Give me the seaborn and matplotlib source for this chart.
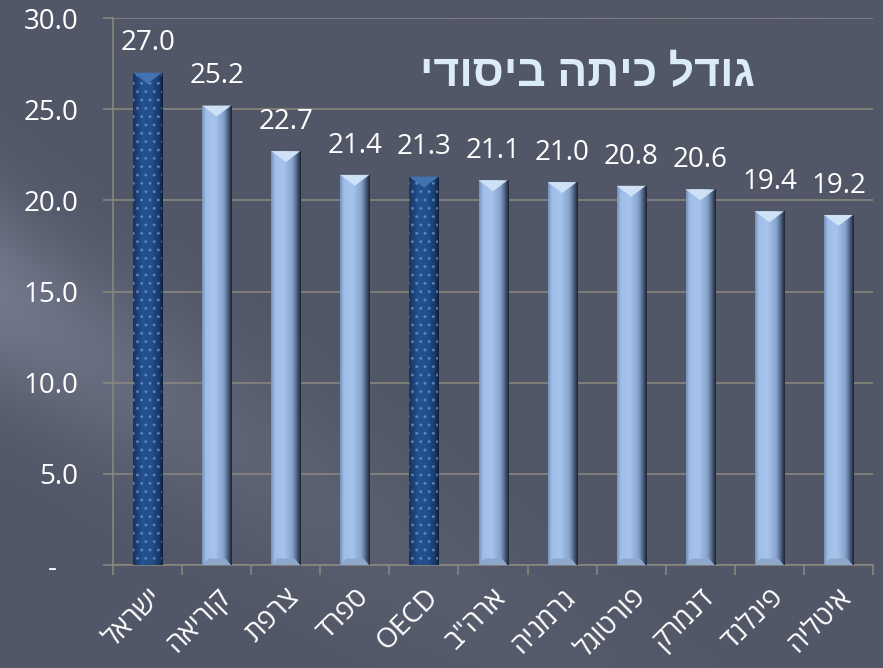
import numpy as np
import pandas as pd
import matplotlib
matplotlib.use("Agg")
import matplotlib.pyplot as plt
import seaborn as sns
from matplotlib.colors import LinearSegmentedColormap
from matplotlib.patches import Rectangle, Polygon

categories = ["ישראל", "קוריאה", "צרפת", "ספרד", "OECD", 'ארה"ב', "גרמניה", "פורטוגל", "דנמרק", "פינלנד", "איטליה"]
values = [27.0, 25.2, 22.7, 21.4, 21.3, 21.1, 21.0, 20.8, 20.6, 19.4, 19.2]
highlight = ["ישראל", "OECD"]
title_text = "גודל כיתה ביסודי"
yticks = [0, 5, 10, 15, 20, 25, 30]
ytick_labels = ["-   ", "5.0", "10.0", "15.0", "20.0", "25.0", "30.0"]


def vis(s):
    # matplotlib has no bidi support: reverse Hebrew for display
    if any('\u0590' <= c <= '\u05ff' for c in s):
        return s[::-1]
    return s


sns.set_theme(style="white")
plt.rcParams['font.family'] = ['Open Sans', 'Liberation Sans', 'DejaVu Sans']

df = pd.DataFrame({"country": categories, "value": values})

fig = plt.figure(figsize=(8.83, 6.68), dpi=100)

# background gradient (pixel grid)
bgax = fig.add_axes([0, 0, 1, 1], zorder=-10)
H, W = 334, 442
py, px = np.mgrid[0:668:H * 1j, 0:883:W * 1j]
base = np.array([82, 87, 103]) / 255.0
light = np.array([118, 124, 142]) / 255.0
dx, dy = 300.0, 190.0
n = np.hypot(dx, dy)
s = (-(dy / n) * px + (dx / n) * (py - 235))
band = np.exp(-((s - 50) / 80.0) ** 2) * np.exp(-px / 260.0)
w = np.clip(band * 0.9, 0, 1)[..., None]
img = base * (1 - w) + light * w
bgax.imshow(img, extent=[0, 1, 0, 1], aspect='auto', origin='upper', interpolation='bilinear')
bgax.set_axis_off()

ax = fig.add_axes([0.128, 0.154, 0.8607, 0.819])
ax.set_facecolor('none')

sns.barplot(data=df, x="country", y="value", ax=ax, width=0.42,
            color="#9ab8e0", saturation=1, zorder=3)

light_cmap = LinearSegmentedColormap.from_list(
    "lb", [(0.0, "#7391bb"), (0.12, "#a0bee6"), (0.42, "#a7c4ec"),
           (0.72, "#86a3cc"), (0.86, "#54688a"), (1.0, "#1c2434")])
dark_cmap = LinearSegmentedColormap.from_list(
    "db", [(0.0, "#17335f"), (0.3, "#24518f"), (0.6, "#23508c"),
           (0.88, "#183a6b"), (1.0, "#0d1d38")])

grad = np.linspace(0, 1, 64)[None, :]
for patch, cat in zip(ax.patches, categories):
    x0 = patch.get_x()
    wd = patch.get_width()
    h = patch.get_height()
    patch.set_facecolor('none')
    patch.set_edgecolor('none')
    is_hl = cat in highlight
    im = ax.imshow(grad, extent=[x0, x0 + wd, 0, h], aspect='auto',
                   cmap=dark_cmap if is_hl else light_cmap, zorder=3,
                   interpolation='bicubic')
    im.set_clip_path(patch)
    bev = 0.6
    if is_hl:
        ax.add_patch(Rectangle((x0, 0), wd, h, facecolor='none',
                               edgecolor=(0.45, 0.62, 0.85, 0.55), hatch='..',
                               linewidth=0, zorder=4))
        ax.add_patch(Polygon([(x0, h), (x0 + wd, h), (x0 + wd / 2, h - bev)],
                             closed=True, facecolor="#4172b2", edgecolor='none', zorder=5))
    else:
        ax.add_patch(Polygon([(x0, h), (x0 + wd, h), (x0 + wd / 2, h - bev)],
                             closed=True, facecolor="#cfe1f6", edgecolor='none', zorder=5))
        ax.add_patch(Polygon([(x0, 0), (x0 + wd, 0), (x0 + wd * 0.8, bev * 0.6),
                              (x0 + wd * 0.2, bev * 0.6)],
                             closed=True, facecolor="#8ea8cc", edgecolor='none', zorder=5))
    ax.annotate(f"{h:.1f}", (x0 + wd / 2, h), xytext=(0, 11), textcoords='offset points',
                ha='center', va='bottom', color='white', fontsize=20, zorder=6)

ax.set_xlim(-0.5, len(categories) - 0.5)
ax.set_ylim(0, 30)

gcol = "#8c8981"
ax.set_yticks(yticks)
ax.set_yticklabels(ytick_labels)
ax.yaxis.grid(True, color=gcol, linewidth=1.1, zorder=0)
ax.set_axisbelow(True)
ax.tick_params(axis='y', colors=gcol, length=7, width=1.1, pad=18, labelcolor='white',
               labelsize=20, left=True)

ax.set_xticks(range(len(categories)))
ax.set_xticklabels([vis(c) for c in categories], rotation=45, ha='right',
                   rotation_mode='anchor', color='white', fontsize=20)
ax.tick_params(axis='x', length=0, pad=13)
ax.set_xticks(np.arange(-0.5, len(categories), 1.0), minor=True)
ax.tick_params(axis='x', which='minor', length=7, width=1.1, color=gcol, bottom=True)

for side in ['top', 'right']:
    ax.spines[side].set_visible(False)
for side in ['left', 'bottom']:
    ax.spines[side].set_color(gcol)
    ax.spines[side].set_linewidth(1.1)
ax.set_xlabel("")
ax.set_ylabel("")

fig.text(0.665, 0.888, vis(title_text), ha='center', va='center', color='#dcecf6',
         fontsize=32, fontweight='bold')

fig.savefig("out.png", dpi=100)
